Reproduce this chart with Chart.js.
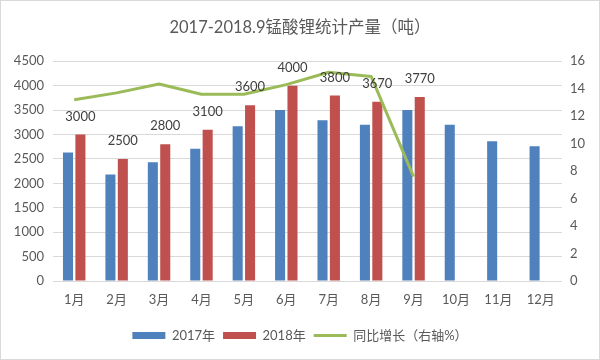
<!DOCTYPE html>
<html>
<head>
<meta charset="utf-8">
<script src="https://cdn.jsdelivr.net/npm/chart.js@4/dist/chart.umd.min.js"></script>
<style>
  html, body { margin: 0; padding: 0; background: #fff; }
  #wrap { width: 600px; height: 360px; position: relative; }
  canvas { display: block; outline: 1px solid #d9d9d9; outline-offset: -1px; }
</style>
</head>
<body>
<div id="wrap"><canvas id="c" width="600" height="360"></canvas></div>
<script>
const categories = ['1月','2月','3月','4月','5月','6月','7月','8月','9月','10月','11月','12月'];
const output2017 = [2630, 2180, 2430, 2710, 3170, 3500, 3290, 3200, 3500, 3200, 2860, 2760];
const output2018 = [3000, 2500, 2800, 3100, 3600, 4000, 3800, 3670, 3770];
const growthPct = [13.2, 13.7, 14.35, 13.6, 13.6, 14.3, 15.2, 14.9, 7.6];
const seriesNames = ['2017年', '2018年', '同比增长（右轴%）'];
const titleText = '2017-2018.9锰酸锂统计产量（吨）';

const FONT = "Lato, 'Noto Sans CJK SC', sans-serif";
const TXT = '#595959';
const GRID = '#d9d9d9';

const labelPlugin = {
  id: 'barValueLabels',
  afterDatasetsDraw(chart) {
    const meta = chart.getDatasetMeta(1);
    const ctx = chart.ctx;
    ctx.save();
    ctx.font = '13px ' + FONT;
    ctx.fillStyle = '#404040';
    ctx.textAlign = 'center';
    ctx.textBaseline = 'middle';
    meta.data.forEach((el, i) => {
      ctx.fillText(String(output2018[i]), el.x, el.y - 18);
    });
    ctx.restore();
  }
};

new Chart(document.getElementById('c'), {
  data: {
    labels: categories,
    datasets: [
      { type: 'bar', label: seriesNames[0], data: output2017, backgroundColor: '#4f81bd', yAxisID: 'y', order: 1,
        categoryPercentage: 0.585, barPercentage: 0.81 },
      { type: 'bar', label: seriesNames[1], data: output2018, backgroundColor: '#c0504d', yAxisID: 'y', order: 1,
        categoryPercentage: 0.585, barPercentage: 0.81 },
      { type: 'line', label: seriesNames[2], data: growthPct, borderColor: '#9bbb59', backgroundColor: '#9bbb59',
        borderWidth: 3, pointRadius: 0, tension: 0, yAxisID: 'y1', order: 0, borderJoinStyle: 'round' }
    ]
  },
  options: {
    responsive: false,
    devicePixelRatio: 1,
    animation: false,
    layout: { padding: { left: 0, right: 0, top: 0, bottom: 8 } },
    plugins: {
      title: {
        display: true, text: titleText, color: TXT,
        font: { family: FONT, size: 16.5, weight: 'normal' },
        padding: { top: 18, bottom: 23.5 }
      },
      legend: {
        position: 'bottom',
        labels: {
          color: TXT, font: { family: FONT, size: 13 },
          usePointStyle: true, pointStyleWidth: 33, boxHeight: 7, padding: 8,
          sort: (a, b) => a.datasetIndex - b.datasetIndex,
          generateLabels(chart) {
            return chart.data.datasets.map((ds, i) => ({
              text: ds.label,
              fillStyle: ds.type === 'line' ? ds.borderColor : ds.backgroundColor,
              strokeStyle: ds.type === 'line' ? ds.borderColor : ds.backgroundColor,
              lineWidth: ds.type === 'line' ? 3 : 0,
              pointStyle: ds.type === 'line' ? 'line' : 'rect',
              fontColor: TXT,
              hidden: false,
              datasetIndex: i
            }));
          }
        }
      },
      tooltip: { enabled: false }
    },
    scales: {
      x: {
        grid: { display: false, drawTicks: false },
        border: { display: false },
        ticks: { color: TXT, font: { family: FONT, size: 13 }, padding: 11.5, maxRotation: 0, autoSkip: false },
        afterFit(s) { s.height = 40; }
      },
      y: {
        position: 'left', min: 0, max: 4500,
        grid: { color: GRID, drawTicks: false, lineWidth: 1 },
        border: { display: false },
        ticks: { stepSize: 500, color: TXT, font: { family: FONT, size: 13 }, padding: 9,
                 callback: v => String(v) },
        afterFit(s) { s.width = 53; }
      },
      y1: {
        position: 'right', min: 0, max: 16,
        grid: { display: false, drawTicks: false },
        border: { display: false },
        ticks: { stepSize: 2, color: TXT, font: { family: FONT, size: 13 }, padding: 8,
                 callback: v => String(v) },
        afterFit(s) { s.width = 38; }
      }
    }
  },
  plugins: [labelPlugin]
});
</script>
</body>
</html>
